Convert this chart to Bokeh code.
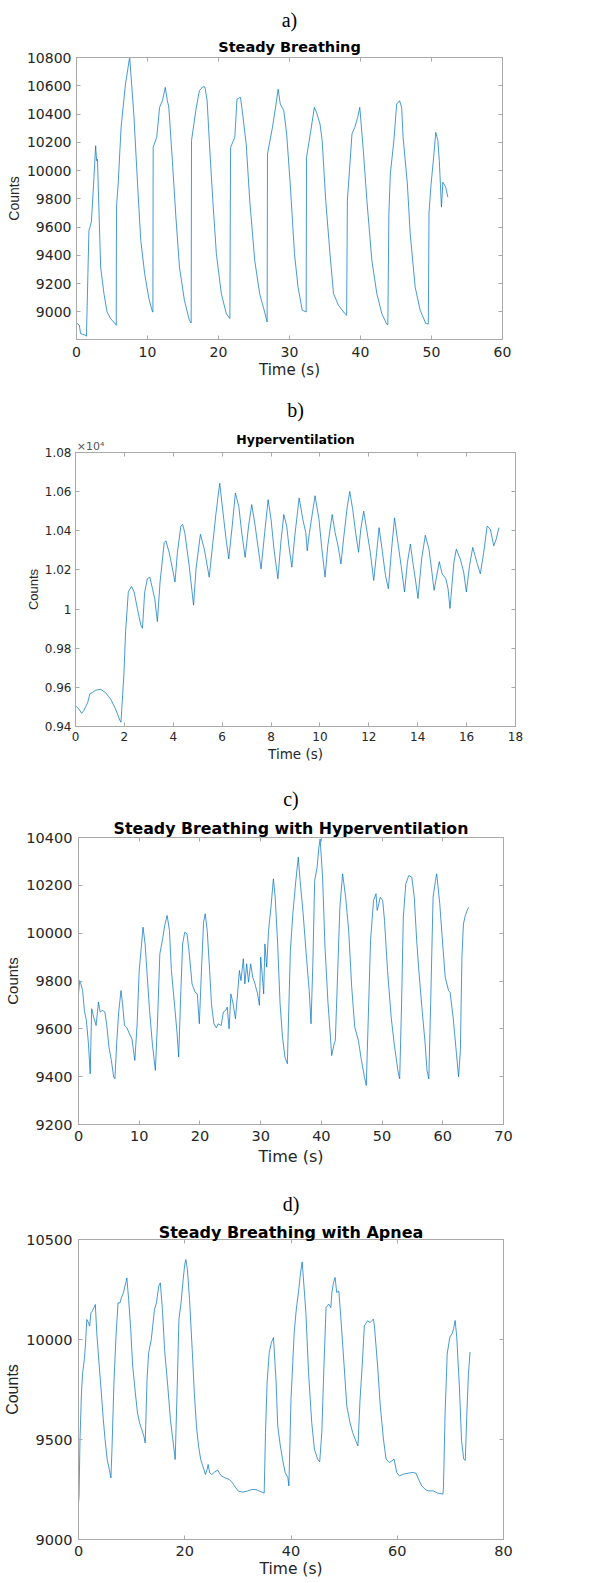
from bokeh.plotting import figure
from bokeh.models import Title, LinearAxis, FixedTicker, CustomJSTickFormatter, Range1d, ColumnDataSource
from bokeh.layouts import column
from bokeh.embed import file_html
from bokeh.resources import INLINE

# ---------------- data ----------------
a_time = [0, 0.4, 0.57, 1.27, 1.4, 1.75, 1.9, 2.1, 2.4, 2.7, 2.83, 2.95, 3.4, 3.87, 4.3, 4.8, 5.5, 5.6,
          5.63, 5.87, 6.28, 6.9, 7.44, 7.5, 7.7, 8.1, 8.6, 9.05, 9.6, 10.2, 10.7, 10.76,
          10.8, 11.3, 11.7, 12.1, 12.5, 12.8, 13.0, 13.5, 14.0, 14.5, 15.2, 15.9, 16.15,
          16.2, 16.8, 17.3, 17.8, 18.1, 18.4, 18.7, 19.2, 19.7, 20.4, 21.1, 21.6,
          21.7, 22.3, 22.6, 23.1, 23.4, 23.9, 24.4, 25.1, 25.8, 26.5, 26.85,
          26.9, 27.6, 28.1, 28.4, 28.7, 29.2, 29.6, 30.1, 30.7, 31.2, 31.8, 32.35,
          32.4, 33.0, 33.5, 33.8, 34.3, 34.6, 35.1, 35.7, 36.2, 36.9, 37.8, 38.05,
          38.15, 38.8, 39.2, 39.6, 39.9, 40.4, 40.9, 41.6, 42.3, 43.0, 43.7, 43.85,
          44.0, 44.2, 44.7, 45.1, 45.5, 45.8, 46.0, 46.6, 47.0, 47.7, 48.4, 49.2, 49.55,
          49.65, 49.9, 50.3, 50.6, 50.9, 51.1, 51.4, 51.6, 52.0, 52.3]
a_counts = [8922, 8906, 8847, 8835, 8828, 9576, 9600, 9640, 9900, 10176, 10070, 10080, 9318, 9129, 9000, 8953, 8913, 8906,
            9741, 9906, 10306, 10612, 10787, 10795, 10659, 10376, 9906, 9506, 9271, 9094, 9000, 9000,
            10165, 10236, 10447, 10494, 10588, 10494, 10450, 10071, 9671, 9318, 9082, 8941, 8922,
            10212, 10424, 10565, 10593, 10590, 10494, 10212, 9788, 9412, 9129, 8988, 8953,
            10165, 10235, 10506, 10518, 10400, 10188, 9788, 9365, 9129, 9000, 8929,
            10118, 10306, 10471, 10576, 10471, 10424, 10259, 9906, 9412, 9176, 9012, 9000,
            10094, 10282, 10447, 10412, 10329, 10212, 9788, 9412, 9129, 9047, 8988, 8976,
            9788, 10259, 10306, 10376, 10447, 10141, 9788, 9365, 9129, 8988, 8913, 8910,
            9700, 9976, 10212, 10471, 10494, 10447, 10235, 9906, 9553, 9176, 9012, 8918, 8915,
            9700, 9882, 10094, 10271, 10212, 10071, 9741, 9918, 9882, 9812]

b_time = [0, 0.14, 0.25, 0.34, 0.5, 0.59, 0.68, 0.82, 1.03, 1.23, 1.44, 1.64, 1.82, 1.86, 1.98, 2.05, 2.16,
          2.29, 2.4, 2.53, 2.67, 2.74, 2.83, 2.94, 3.04, 3.15, 3.24, 3.35, 3.46, 3.63, 3.70, 3.83, 3.97,
          4.07, 4.17, 4.31, 4.38, 4.47, 4.65, 4.83, 4.93, 5.11, 5.27, 5.47, 5.62, 5.75, 5.90, 6.02, 6.16,
          6.27, 6.41, 6.54, 6.68, 6.80, 6.94, 7.08, 7.21, 7.35, 7.59, 7.74, 7.88, 8.0, 8.12, 8.28, 8.4,
          8.52, 8.64, 8.73, 8.85, 8.97, 9.15, 9.3, 9.42, 9.48, 9.57, 9.8, 9.96, 10.08, 10.21, 10.32, 10.5,
          10.62, 10.74, 10.86, 10.98, 11.12, 11.22, 11.34, 11.46, 11.58, 11.67, 11.79, 11.91, 12.06, 12.2,
          12.32, 12.42, 12.54, 12.68, 12.8, 12.92, 13.05, 13.17, 13.32, 13.46, 13.58, 13.7, 13.82, 13.92,
          14.01, 14.16, 14.31, 14.46, 14.58, 14.67, 14.78, 14.88, 15.0, 15.15, 15.24, 15.32, 15.48, 15.58,
          15.74, 15.88, 15.99, 16.12, 16.25, 16.42, 16.56, 16.70, 16.84, 16.97, 17.11, 17.21, 17.32]
b_counts = [9506, 9489, 9467, 9481, 9523, 9568, 9573, 9585, 9590, 9573, 9540, 9489, 9430, 9422, 9666, 9885, 10087,
            10116, 10087, 10003, 9919, 9902, 10087, 10155, 10163, 10104, 10054, 9936, 10138, 10340, 10349, 10290, 10205,
            10138, 10290, 10424, 10433, 10391, 10222, 10020, 10205, 10382, 10306, 10163, 10340, 10492, 10643, 10509, 10357,
            10256, 10424, 10593, 10525, 10391, 10264, 10424, 10534, 10424, 10205, 10391, 10559, 10458, 10306, 10155, 10340,
            10483, 10424, 10323, 10214, 10374, 10568, 10458, 10391, 10298, 10391, 10579, 10458, 10306, 10163, 10323, 10483,
            10391, 10323, 10231, 10374, 10525, 10601, 10509, 10391, 10290, 10408, 10500, 10408, 10290, 10146,
            10290, 10416, 10306, 10172, 10104, 10290, 10466, 10357, 10222, 10087, 10239, 10332, 10222, 10138,
            10054, 10256, 10377, 10306, 10189, 10096, 10172, 10242, 10180, 10155, 10104, 10003, 10239, 10306,
            10256, 10189, 10087, 10222, 10315, 10239, 10180, 10290, 10424, 10408, 10323, 10357, 10416]

c_time = [0, 0.19, 0.39, 0.68, 0.97, 1.3, 1.64, 1.93, 2.17, 2.5, 2.9, 3.29, 3.57, 3.96, 4.35, 4.69, 5.02, 5.41,
          5.8, 6.0, 6.28, 6.62, 7.0, 7.25, 7.58, 7.92, 8.4, 8.8, 9.28, 9.66, 10.0, 10.34, 10.63, 10.97, 11.3,
          11.7, 12.17, 12.66, 13.0, 13.4, 13.86, 14.2, 14.6, 14.98, 15.3, 15.8, 16.2, 16.5, 16.86, 17.15, 17.5,
          17.87, 18.2, 18.7, 19.2, 19.57, 19.9, 20.3, 20.6, 20.87, 21.2, 21.6, 21.9, 22.3, 22.7, 23.0, 23.5,
          23.86, 24.25, 24.5, 24.8, 25.1, 25.46, 25.85, 26.2, 26.5, 26.76, 27.15, 27.4, 27.7, 28.0, 28.36,
          28.7, 29.08, 29.2, 29.5, 29.8, 30.0, 30.25, 30.5, 30.7, 31.0, 31.3, 31.7, 32.1, 32.4, 32.8, 33.2,
          33.6, 34.0, 34.4, 34.6, 34.9, 35.3, 35.8, 36.2, 36.5, 37.0, 37.5, 38.0, 38.3, 38.6, 38.9, 39.3,
          39.6, 39.8, 40.2, 40.6, 41.1, 41.5, 41.7, 42.1, 42.3, 42.7, 43.05, 43.5, 44.0, 44.5, 45.0, 45.5,
          46.1, 46.6, 47.1, 47.4, 47.7, 48.1, 48.6, 49.0, 49.2, 49.7, 50.1, 50.4, 50.9, 51.5, 52.0, 52.6,
          52.9, 53.2, 53.5, 53.9, 54.4, 54.9, 55.3, 55.7, 56.1, 56.6, 57.1, 57.4, 57.7, 58.0, 58.4, 58.8,
          59.0, 59.5, 59.9, 60.4, 60.95, 61.2, 61.7, 62.2, 62.6, 62.9, 63.15, 63.4, 63.7, 64.0, 64.25]
c_counts = [9746, 9802, 9788, 9760, 9677, 9635, 9537, 9412, 9684, 9649, 9614, 9712, 9670, 9677, 9670, 9607, 9523, 9468,
            9398, 9391, 9537, 9670, 9760, 9705, 9614, 9607, 9579, 9558, 9468, 9621, 9844, 9941, 10025, 9955, 9830,
            9677, 9537, 9426, 9621, 9914, 9976, 10032, 10074, 10011, 9844, 9705, 9593, 9482, 9760, 9955, 10004,
            9997, 9927, 9788, 9753, 9746, 9621, 9872, 10046, 10081, 10011, 9844, 9705, 9621, 9604, 9621, 9614,
            9670, 9677, 9691, 9600, 9746, 9705, 9642, 9746, 9844, 9802, 9893, 9788, 9872, 9795, 9872,
            9816, 9788, 9774, 9746, 9698, 9900, 9830, 9746, 9955, 9858, 10011, 10109, 10227, 10150, 9955, 9705,
            9565, 9482, 9454, 9649, 9927, 10081, 10220, 10318, 10220, 10081, 9914, 9760, 9621, 9872, 10220, 10276,
            10360, 10394, 10234, 9941, 9705, 9565, 9488, 9537, 9551, 9844, 10109, 10248, 10150, 10011, 9774, 9607,
            9551, 9468, 9398, 9363, 9621, 9969, 10137, 10165, 10095, 10150, 10137, 10053, 9844, 9649, 9537, 9426,
            9391, 9691, 10067, 10206, 10241, 10234, 10150, 9969, 9830, 9677, 9537, 9426, 9391, 9705, 10150, 10220,
            10248, 10123, 9983, 9816, 9760, 9753, 9649, 9510, 9399, 9510, 9900, 10038, 10073, 10094, 10108]

d_time = [0, 0.1, 0.28, 0.56, 0.78, 1.1, 1.33, 1.56, 1.9, 2.1, 2.33, 2.6, 2.9, 3.17, 3.44, 3.9, 4.3, 4.67, 5.0,
          5.4, 5.8, 6.1, 6.3, 6.67, 7.06, 7.44, 7.8, 8.06, 8.44, 8.9, 9.1, 9.44, 9.83, 10.2, 10.7, 11.1, 11.5,
          11.9, 12.3, 12.56, 12.9, 13.2, 13.7, 14.3, 14.67, 15.1, 15.4, 15.8, 16.2, 16.8, 17.3, 17.9, 18.2,
          18.6, 18.9, 19.3, 19.7, 20.0, 20.2, 20.5, 20.9, 21.4, 21.8, 22.2, 22.6, 23.0, 23.4, 23.9, 24.2,
          24.4, 24.7, 25.1, 25.6, 26.2, 26.8, 27.6, 28.4, 29.0, 29.6, 30.1, 30.9, 31.8, 32.6, 33.4, 33.96,
          34.95, 35.2, 35.5, 35.9, 36.3, 36.7, 37.2, 37.5, 37.9, 38.4, 38.9, 39.4, 39.6, 40.0, 40.6, 41.0,
          41.4, 41.8, 42.1, 42.3, 42.8, 43.3, 43.9, 44.4, 45.0, 45.4, 45.8, 46.2, 46.6, 47.1, 47.5, 47.7,
          48.0, 48.3, 48.6, 49.0, 49.4, 50.0, 50.5, 51.1, 51.6, 52.2, 52.6, 53.0, 53.4, 53.8, 54.4, 54.9,
          55.5, 55.7, 56.3, 56.8, 57.4, 57.9, 58.5, 59.0, 59.4, 59.9, 60.4, 61.2, 62.1, 62.9, 63.5, 64.0,
          64.6, 65.4, 65.9, 66.8, 67.6, 68.6, 68.7, 69.0, 69.4, 69.9, 70.3, 70.6, 70.9, 71.2, 71.7, 72.1,
          72.5, 72.8, 73.1, 73.4, 73.7]
d_counts = [9183, 9217, 9500, 9733, 9833, 9900, 9983, 10100, 10083, 10067, 10133, 10142, 10158, 10175, 10033, 9867, 9733, 9600, 9500,
            9400, 9350, 9308, 9450, 9783, 10017, 10183, 10183, 10208, 10233, 10283, 10308, 10200, 10050, 9867, 9733, 9633, 9583,
            9550, 9517, 9483, 9800, 9933, 10000, 10150, 10183, 10267, 10283, 10150, 9950, 9767, 9600, 9467, 9400,
            9783, 10100, 10183, 10300, 10375, 10400, 10350, 10200, 9950, 9733, 9567, 9467, 9400, 9367, 9325, 9350,
            9375, 9333, 9325, 9337, 9347, 9320, 9308, 9300, 9283, 9258, 9242, 9237, 9242, 9250, 9250, 9243,
            9232, 9535, 9785, 9935, 9985, 10010, 9785, 9568, 9485, 9402, 9335, 9310, 9268, 9702, 10035, 10152,
            10235, 10335, 10388, 10318, 10135, 9835, 9585, 9452, 9402, 9388, 9535, 9868, 10160, 10177, 10160, 10235,
            10285, 10310, 10235, 10243, 10102, 9868, 9668, 9585, 9535, 9493, 9468, 9702, 9868, 10068, 10093, 10085,
            10102, 10068, 9868, 9668, 9502, 9402, 9385, 9393, 9402, 9335, 9318, 9327, 9332, 9335, 9332, 9302,
            9268, 9248, 9243, 9243, 9232, 9227, 9262, 9628, 9928, 10012, 10028, 10053, 10095, 10012, 9762, 9495,
            9403, 9395, 9628, 9828, 9937]

a_xticks = [0, 10, 20, 30, 40, 50, 60]
a_yticks = [9000, 9200, 9400, 9600, 9800, 10000, 10200, 10400, 10600, 10800]
b_xticks = [0, 2, 4, 6, 8, 10, 12, 14, 16, 18]
b_yticks = [9400, 9600, 9800, 10000, 10200, 10400, 10600, 10800]
b_ytick_labels = ["0.94", "0.96", "0.98", "1", "1.02", "1.04", "1.06", "1.08"]
b_multiplier = "\u00d710\u2074"
c_xticks = [0, 10, 20, 30, 40, 50, 60, 70]
c_yticks = [9200, 9400, 9600, 9800, 10000, 10200, 10400]
d_xticks = [0, 20, 40, 60, 80]
d_yticks = [9000, 9500, 10000, 10500]

titles = ["Steady Breathing", "Hyperventilation",
          "Steady Breathing with Hyperventilation", "Steady Breathing with Apnea"]
tags = ["a)", "b)", "c)", "d)"]

# ---------------- styling ----------------
FRAME = "#a9a9a9"
TXT = "#262626"
BLUE = "#0072BD"
W = 595


def make_panel(t, v, xr, yr, xt, yt, ylab, height, bl, br, bt, bb,
               tick_size, lab_size, counts_size, xstand, ystand, xlstand, ylstand, top_gap):
    p = figure(width=W, height=height, x_range=Range1d(*xr), y_range=Range1d(*yr),
               output_backend="svg", toolbar_location=None, title=None,
               min_border_left=bl, min_border_right=br, min_border_top=bt, min_border_bottom=bb)
    p.frame_align = False
    p.line(x="t", y="v", source=ColumnDataSource(dict(t=t, v=v)),
           line_color=BLUE, line_width=0.85, line_alpha=0.85)
    p.grid.visible = False
    p.outline_line_color = FRAME
    p.outline_line_width = 1
    p.background_fill_color = "white"
    p.border_fill_color = "white"

    xa = p.xaxis[0]
    xa.ticker = FixedTicker(ticks=xt)
    xa.axis_label = "Time (s)"
    ya = p.yaxis[0]
    ya.ticker = FixedTicker(ticks=yt)
    ya.axis_label = "Counts"
    if ylab is not None:
        ya.major_label_overrides = {k: s for k, s in zip(yt, ylab)}
    for ax, fnt, st, lst in ((xa, "DejaVu Sans", xstand, xlstand), (ya, "Liberation Sans", ystand, ylstand)):
        ax.major_tick_in = 4
        ax.major_tick_out = 0
        ax.minor_tick_line_color = None
        ax.axis_line_color = FRAME
        ax.major_tick_line_color = FRAME
        ax.major_label_text_font = "DejaVu Sans"
        ax.major_label_text_font_size = tick_size
        ax.major_label_text_color = TXT
        ax.major_label_standoff = st
        ax.axis_label_text_font_style = "normal"
        ax.axis_label_text_color = TXT
        ax.axis_label_standoff = lst
        ax.axis_label_text_font = fnt
    xa.axis_label_text_font_size = lab_size
    ya.axis_label_text_font_size = counts_size

    # tick marks on the top and right edges of the box (no labels)
    for side, ticks, gap in (("above", xt, top_gap), ("right", yt, 0)):
        ax = LinearAxis(ticker=FixedTicker(ticks=ticks),
                        formatter=CustomJSTickFormatter(code="return ''"),
                        major_tick_in=4, major_tick_out=0, major_label_standoff=gap,
                        minor_tick_line_color=None, axis_line_color=None,
                        major_tick_line_color=FRAME, major_label_text_font_size="0px")
        p.add_layout(ax, side)
    return p


def add_title(p, title, tsize, tstand):
    p.add_layout(Title(text=title, align="center", vertical_align="bottom", standoff=tstand,
                       text_font="DejaVu Sans", text_font_style="bold", text_font_size=tsize,
                       text_color="black"), "above")


def add_tag(p, tag, tag_off, tag_stand):
    p.add_layout(Title(text=tag, align="center", vertical_align="bottom", standoff=tag_stand,
                       offset=tag_off, text_font="Liberation Serif", text_font_style="normal",
                       text_font_size="20px", text_color="black"), "above")


# panel a: frame 76-502 x 57-339 ; figure y 0-388
pa = make_panel(a_time, a_counts, (0, 60), (8805, 10800), a_xticks, a_yticks, None,
                388, 76, 93, 57, 49, "14px", "15px", "14px", 7, 5, 1, 2, 0)
add_title(pa, titles[0], "14.5px", 4.4)
add_tag(pa, tags[0], 6, 9)

# panel b: frame 75-515 x 449-726 ; figure y 388-778
pb = make_panel(b_time, b_counts, (0, 18), (9400, 10800), b_xticks, b_yticks, b_ytick_labels,
                390, 75, 80, 61, 52, "12px", "13.5px", "13px", 5, 4, 2, 1, 3)
pb.add_layout(LinearAxis(ticker=FixedTicker(ticks=[0.62]),
                         formatter=CustomJSTickFormatter(code="return '%s'" % b_multiplier),
                         major_tick_in=0, major_tick_out=0, major_label_standoff=0,
                         minor_tick_line_color=None, axis_line_color=None, major_tick_line_color=None,
                         major_label_text_font="DejaVu Sans", major_label_text_font_size="11px",
                         major_label_text_color="#555555"), "above")
pb.add_layout(LinearAxis(ticker=FixedTicker(ticks=[9.0]),
                         formatter=CustomJSTickFormatter(code="return '%s'" % titles[1]),
                         major_tick_in=0, major_tick_out=0, major_label_standoff=-10,
                         minor_tick_line_color=None, axis_line_color=None, major_tick_line_color=None,
                         major_label_text_font="DejaVu Sans", major_label_text_font_style="bold",
                         major_label_text_font_size="12.5px", major_label_text_color="black"), "above")
add_tag(pb, tags[1], 0, 16)

# panel c: frame 78-503 x 837-1124 ; figure y 778-1180
pc = make_panel(c_time, c_counts, (0, 70), (9200, 10400), c_xticks, c_yticks, None,
                402, 78, 92, 59, 56, "14.5px", "16px", "15px", 6, 6, 3, 2, 1)
add_title(pc, titles[2], "15.8px", -0.1)
add_tag(pc, tags[2], 4.5, 13.6)

# panel d: frame 78-503 x 1239-1539 ; figure y 1180-1581
pd_ = make_panel(d_time, d_counts, (0, 80), (9000, 10500), d_xticks, d_yticks, None,
                 401, 78, 92, 59, 42, "14.5px", "15.5px", "16px", 6, 6, 1, 2, 1)
add_title(pd_, titles[3], "16px", -5.1)
add_tag(pd_, tags[3], 5, 17.6)

layout = column(pa, pb, pc, pd_, spacing=0)
open("out.html", "w").write(file_html(layout, INLINE))
